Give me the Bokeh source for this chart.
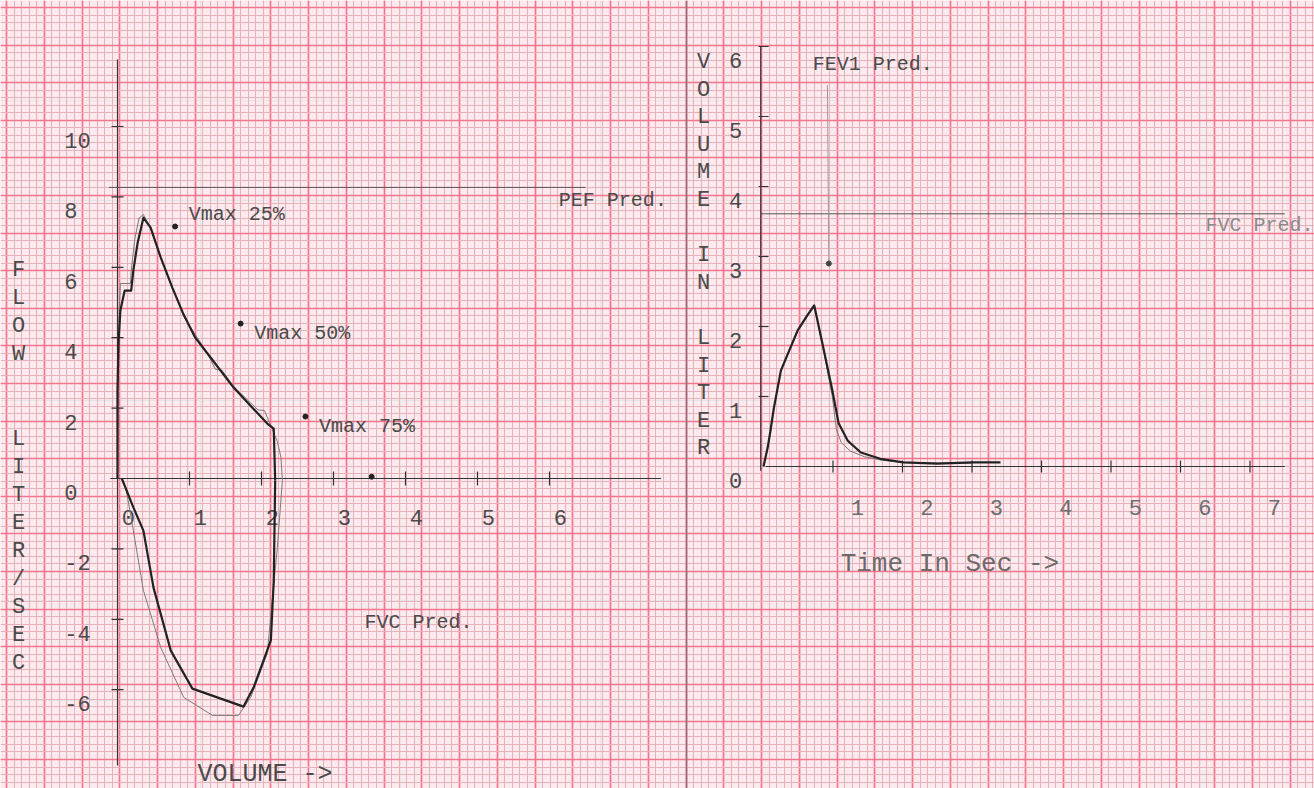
import numpy as np
from bokeh.plotting import figure
from bokeh.models import Range1d, Grid, FixedTicker, Span
from bokeh.core.properties import value
from bokeh.embed import file_html
from bokeh.resources import INLINE

# ---------------- data: flow-volume loop ----------------
fv_best_exp_vol = [0.00, 0.00, 0.015, 0.04, 0.10, 0.19, 0.22, 0.28, 0.36, 0.46, 0.60, 0.76, 0.92, 1.08, 1.25, 1.61, 2.08, 2.17, 2.19]
fv_best_exp_flow = [0.00, 2.50, 3.90, 4.77, 5.34, 5.34, 5.91, 6.70, 7.41, 7.13, 6.28, 5.43, 4.65, 4.00, 3.55, 2.59, 1.56, 1.42, -0.06]
fv_best_insp_vol = [0.06, 0.22, 0.36, 0.50, 0.74, 1.04, 1.75, 1.89, 2.13, 2.17, 2.19]
fv_best_insp_flow = [0.00, -0.82, -1.48, -3.10, -4.89, -5.97, -6.48, -5.94, -4.60, -2.90, -0.06]

fv_trial_exp_vol = [0.00, 0.01, 0.02, 0.04, 0.18, 0.19, 0.24, 0.30, 0.36, 0.46, 0.60, 0.92, 1.25, 1.36, 1.45, 1.61, 1.95, 2.04, 2.14, 2.22, 2.27, 2.29]
fv_trial_exp_flow = [0.00, 2.50, 4.60, 5.54, 5.54, 5.90, 6.80, 7.40, 7.50, 7.10, 6.30, 4.60, 3.55, 3.10, 3.08, 2.62, 1.95, 1.93, 1.45, 1.05, 0.60, -0.06]
fv_trial_insp_vol = [0.06, 0.12, 0.22, 0.36, 0.60, 0.92, 1.32, 1.68, 1.85, 2.08, 2.22, 2.29]
fv_trial_insp_flow = [0.00, -0.30, -1.48, -3.18, -4.80, -6.22, -6.73, -6.73, -6.22, -4.97, -1.96, -0.06]

vmax_names = ["Vmax 25%", "Vmax 50%", "Vmax 75%"]
vmax_vol = [0.80, 1.71, 2.61]
vmax_flow = [7.16, 4.40, 1.76]
pef_pred = 8.27
fvc_pred_vol = 3.53

fv_x_ticks = [0, 1, 2, 3, 4, 5, 6]
fv_y_ticks = [10, 8, 6, 4, 2, 0, -2, -4, -6]
fv_y_tick_marks = [10, 8, 6, 4, 2, -2, -4, -6]

# ---------------- data: volume-time ----------------
vt_best_time = [0.00, 0.06, 0.10, 0.15, 0.25, 0.35, 0.49, 0.63, 0.73, 0.86, 0.99, 1.08, 1.21, 1.40, 1.68, 2.01, 2.50, 3.02, 3.41]
vt_best_vol = [0.00, 0.27, 0.51, 0.84, 1.37, 1.61, 1.94, 2.16, 2.30, 1.70, 1.09, 0.62, 0.37, 0.20, 0.11, 0.06, 0.04, 0.06, 0.06]
vt_trial_time = [0.00, 0.06, 0.10, 0.15, 0.25, 0.35, 0.49, 0.63, 0.73, 0.86, 0.99, 1.05, 1.12, 1.25, 1.45, 1.70, 2.00, 2.50, 3.00]
vt_trial_vol = [0.00, 0.26, 0.50, 0.83, 1.36, 1.60, 1.93, 2.15, 2.30, 1.68, 1.00, 0.52, 0.34, 0.22, 0.14, 0.09, 0.06, 0.05, 0.05]

fev1_pred_time = 0.94
fev1_pred_vol = 2.90
fvc_pred = 3.61

vt_x_ticks = [1, 2, 3, 4, 5, 6, 7]
vt_y_ticks = [6, 5, 4, 3, 2, 1, 0]
vt_y_tick_marks = [6, 5, 4, 3, 2, 1]

left_title = list("FLOW  LITER/SEC")
right_title = list("VOLUME IN LITER")

# ---------------- styles ----------------
PAPER = "#fdeaee"
MINOR = "#e8b2bb"
MAJOR = "#f2768d"
INK = "#222222"
THIN = "#7a7a7a"
TXT = "#4a4a4a"
FONT = value("Liberation Mono")

# picture pixel frame
X0, X1, Y0, Y1 = 0, 1314, 0, 788

# chart placement (pixel anchors and scales)
FV_OX, FV_SX, FV_OY, FV_SY = 117.0, 72.0, 478.0, 35.2
VT_OX, VT_SX, VT_OY, VT_SY = 763.0, 69.5, 466.0, 70.0

p = figure(width=X1 - X0, height=Y1 - Y0,
           x_range=Range1d(X0, X1), y_range=Range1d(Y1, Y0),
           x_axis_location=None, y_axis_location=None,
           toolbar_location=None, output_backend="svg", min_border=0,
           background_fill_color=PAPER, border_fill_color=PAPER,
           outline_line_color=None)

p.extra_x_ranges = {
    "fvx": Range1d((X0 - FV_OX) / FV_SX, (X1 - FV_OX) / FV_SX),
    "vtx": Range1d((X0 - VT_OX) / VT_SX, (X1 - VT_OX) / VT_SX),
}
p.extra_y_ranges = {
    "fvy": Range1d((FV_OY - Y1) / FV_SY, (FV_OY - Y0) / FV_SY),
    "vty": Range1d((VT_OY - Y1) / VT_SY, (VT_OY - Y0) / VT_SY),
}
FV = dict(x_range_name="fvx", y_range_name="fvy")
VT = dict(x_range_name="vtx", y_range_name="vty")

# ---------------- graph paper ----------------
pitch_x, pitch_y = 37.75, 37.6
gx_major = list(6 + pitch_x * np.arange(0, 35))
gx_minor = list(6 + pitch_x / 5 * np.arange(-1, 176))
gy_major = list(7 + pitch_y * np.arange(0, 21))
gy_minor = list(7 + pitch_y / 5 * np.arange(-1, 106))
p.add_layout(Grid(dimension=0, ticker=FixedTicker(ticks=gx_major, minor_ticks=gx_minor),
                  grid_line_color=MAJOR, grid_line_width=1.7,
                  minor_grid_line_color=MINOR, minor_grid_line_width=1))
p.add_layout(Grid(dimension=1, ticker=FixedTicker(ticks=gy_major, minor_ticks=gy_minor),
                  grid_line_color=MAJOR, grid_line_width=1.7,
                  minor_grid_line_color=MINOR, minor_grid_line_width=1))
p.add_layout(Span(location=686, dimension="height", line_color="#8c6d74", line_width=1.5))

# ---------------- flow-volume chart ----------------
p.line([0, 0], [11.9, -8.15], line_color="#333333", line_width=1.2, **FV)
p.line([-0.1, 7.55], [0, 0], line_color="#333333", line_width=1.2, **FV)
p.scatter([0] * len(fv_y_tick_marks), fv_y_tick_marks, marker="dash", size=12,
          line_color="#333333", line_width=1.2, **FV)
p.scatter(fv_x_ticks[1:], [0] * (len(fv_x_ticks) - 1), marker="dash", size=14, angle=np.pi / 2,
          line_color="#333333", line_width=1.2, **FV)
p.text([-0.74] * len(fv_y_ticks), [t - 0.4 for t in fv_y_ticks], text=[str(t) for t in fv_y_ticks],
       text_font=FONT, text_font_size=value("22px"), text_color=TXT,
       text_align="left", text_baseline="middle", **FV)
p.text([t + 0.15 for t in fv_x_ticks], [-1.12] * len(fv_x_ticks), text=[str(t) for t in fv_x_ticks],
       text_font=FONT, text_font_size=value("22px"), text_color=TXT,
       text_align="center", text_baseline="middle", **FV)

p.line([-0.12, 6.5], [pef_pred, pef_pred], line_color="#555555", line_width=1, **FV)
p.text([6.13], [pef_pred - 0.37], text=["PEF Pred."], text_font=FONT, text_font_size=value("20px"),
       text_color=TXT, text_align="left", text_baseline="middle", **FV)
p.scatter([fvc_pred_vol], [0.05], size=5, color=INK, **FV)
p.text([3.43], [-4.09], text=["FVC Pred."], text_font=FONT, text_font_size=value("20px"),
       text_color=TXT, text_align="left", text_baseline="middle", **FV)

p.line(fv_trial_exp_vol, fv_trial_exp_flow, line_color=THIN, line_width=1, **FV)
p.line(fv_trial_insp_vol, fv_trial_insp_flow, line_color=THIN, line_width=1, **FV)
p.line(fv_best_exp_vol, fv_best_exp_flow, line_color=INK, line_width=2.2, line_join="round", **FV)
p.line(fv_best_insp_vol, fv_best_insp_flow, line_color=INK, line_width=2.2, line_join="round", **FV)

p.scatter(vmax_vol, vmax_flow, size=5, color=INK, **FV)
p.text([v + 0.19 for v in vmax_vol], [f + 0.33 if i == 0 else f - 0.28 for i, f in enumerate(vmax_flow)],
       text=vmax_names, text_font=FONT, text_font_size=value("20px"), text_color=TXT,
       text_align="left", text_baseline="middle", **FV)

p.text([1.11], [-8.4], text=["VOLUME ->"], text_font=FONT, text_font_size=value("25px"),
       text_color=TXT, text_align="left", text_baseline="middle", **FV)

p.text([18] * len(left_title), [270 + 28.1 * i for i in range(len(left_title))], text=left_title,
       text_font=FONT, text_font_size=value("22px"), text_color=TXT,
       text_align="center", text_baseline="middle")

# ---------------- volume-time chart ----------------
p.line([-0.04, -0.04], [6.0, -0.06], line_color="#333333", line_width=1.2, **VT)
p.line([0.03, 7.5], [0, 0], line_color="#333333", line_width=1.2, **VT)
p.scatter([0.0] * len(vt_y_tick_marks), vt_y_tick_marks, marker="dash", size=10,
          line_color="#333333", line_width=1.2, **VT)
p.scatter(vt_x_ticks, [0] * len(vt_x_ticks), marker="dash", size=12, angle=np.pi / 2,
          line_color="#333333", line_width=1.2, **VT)
p.text([-0.4] * len(vt_y_ticks), [t - 0.2 for t in vt_y_ticks], text=[str(t) for t in vt_y_ticks],
       text_font=FONT, text_font_size=value("22px"), text_color=TXT,
       text_align="center", text_baseline="middle", **VT)
p.text([t + 0.35 for t in vt_x_ticks], [-0.59] * len(vt_x_ticks), text=[str(t) for t in vt_x_ticks],
       text_font=FONT, text_font_size=value("22px"), text_color="#6e6e6e",
       text_align="center", text_baseline="middle", **VT)

p.line([-0.04, 7.5], [fvc_pred, fvc_pred], line_color="#555555", line_width=1, **VT)
p.text([6.36], [3.44], text=["FVC Pred."], text_font=FONT, text_font_size=value("20px"),
       text_color="#8a8a8a", text_align="left", text_baseline="middle", **VT)
p.line([fev1_pred_time, fev1_pred_time - 0.02], [fev1_pred_vol, 5.45], line_color="#9a9a9a", line_width=1, **VT)
p.scatter([fev1_pred_time], [fev1_pred_vol], size=5, color="#444444", **VT)
p.text([0.71], [5.74], text=["FEV1 Pred."], text_font=FONT, text_font_size=value("20px"),
       text_color=TXT, text_align="left", text_baseline="middle", **VT)

p.line(vt_trial_time, vt_trial_vol, line_color=THIN, line_width=1, **VT)
p.line(vt_best_time, vt_best_vol, line_color=INK, line_width=2.2, line_join="round", **VT)

p.text([1.11], [-1.39], text=["Time In Sec ->"], text_font=FONT, text_font_size=value("26px"),
       text_color="#6a6a6a", text_align="left", text_baseline="middle", **VT)

p.text([703] * len(right_title), [62 + 27.6 * i for i in range(len(right_title))], text=right_title,
       text_font=FONT, text_font_size=value("22px"), text_color=TXT,
       text_align="center", text_baseline="middle")

open("out.html", "w").write(file_html(p, INLINE))
